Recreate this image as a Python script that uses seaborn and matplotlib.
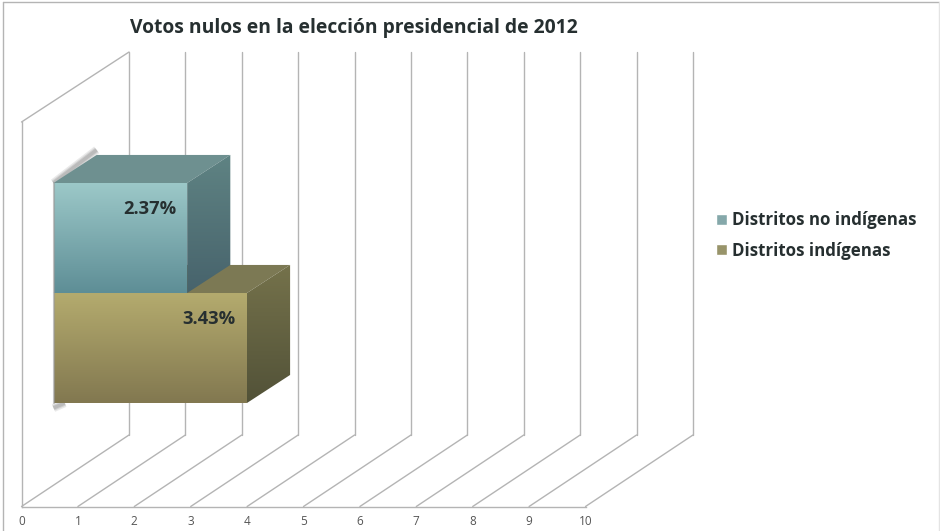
import matplotlib
matplotlib.use("Agg")
import matplotlib.pyplot as plt
from matplotlib.colors import LinearSegmentedColormap
from matplotlib.lines import Line2D
from matplotlib.patches import Polygon
import numpy as np
import pandas as pd
import seaborn as sns

# Chart content
title = "Votos nulos en la elección presidencial de 2012"
districts = ["Distritos no indígenas", "Distritos indígenas"]
null_votes = [2.37, 3.43]
axis_ticks = [0, 1, 2, 3, 4, 5, 6, 7, 8, 9, 10]

# Face colours per series: front, side, top (start and end of each gradient)
front_shades = [("#9CC8C8", "#5E8E96"), ("#B4AB6E", "#827850")]
side_shades = [("#5F8383", "#47636C"), ("#75724B", "#525238")]
top_shades = ["#6E9090", "#7C7954"]
legend_colours = ["#7FAEB0", "#A09A62"]

W, H = 940, 531
GRID = "#B4B4B4"
INK = "#262F30"
FONT = ["Open Sans", "DejaVu Sans"]

sns.set_theme(style="white")
plt.rcParams["font.family"] = FONT
fig = plt.figure(figsize=(W / 100, H / 100), dpi=100, facecolor="white")


def box(left, top, right, bottom):
    return [left / W, 1 - bottom / H, (right - left) / W, (bottom - top) / H]


# Floor and walls
wall = fig.add_axes(box(21.5, 122, 585.5, 506.5))
wall.set_xlim(0, 10)
wall.set_ylim(0, 1)
wall.set_facecolor("none")
BACK_X, BACK_Y, BACK_TOP = 1.906, 0.186, 1.182
for v in axis_ticks:
    wall.plot([v, v + BACK_X], [0, BACK_Y], color=GRID, lw=1, clip_on=False)
    wall.plot([v + BACK_X] * 2, [BACK_Y, BACK_TOP], color=GRID, lw=1, clip_on=False)
wall.plot([0, BACK_X], [1, BACK_TOP], color=GRID, lw=1, clip_on=False)
wall.set_xticks(axis_ticks)
wall.set_xticklabels([str(t) for t in axis_ticks], fontsize=8.5, color="#555555")
wall.tick_params(axis="x", length=0, pad=6)
wall.set_yticks([])
for side in ("top", "right"):
    wall.spines[side].set_visible(False)
for side in ("left", "bottom"):
    wall.spines[side].set_color(GRID)
    wall.spines[side].set_linewidth(1)

# Bars on the front plane of the box
ax = fig.add_axes(box(53.5, 183, 617.5, 403))
ax.set_facecolor("none")
frame = pd.DataFrame({"distrito": districts, "votos": null_votes})
sns.barplot(
    data=frame, x="votos", y="distrito", hue="distrito", order=districts,
    hue_order=districts, palette=legend_colours, width=1, dodge=False, ax=ax,
    legend=True,
)
ax.set_xlim(0, 10)
ax.set_ylim(1.5, -0.5)
ax.axis("off")

DEPTH_X, DEPTH_Y = 0.765, 0.255


def shaded(verts, start, end, zorder):
    """Fill a polygon with a vertical gradient between two colours."""
    verts = np.asarray(verts)
    cmap = LinearSegmentedColormap.from_list("face", [start, end])
    outline = Polygon(verts, closed=True, fc="none", ec="none", zorder=zorder,
                      clip_on=False)
    ax.add_patch(outline)
    image = ax.imshow(
        np.linspace(0, 1, 128).reshape(-1, 1), cmap=cmap, aspect="auto",
        extent=(verts[:, 0].min(), verts[:, 0].max(),
                verts[:, 1].max(), verts[:, 1].min()),
        origin="upper", zorder=zorder, interpolation="bilinear",
    )
    image.set_clip_path(outline)
    image.set_clip_box(fig.bbox)


bars = [c[0] for c in ax.containers]
for i, bar in enumerate(bars):
    value, y0 = bar.get_width(), bar.get_y()
    y1 = y0 + bar.get_height()
    bar.set_visible(False)
    # The lower series sits in front of the upper one, except for its top face
    base = 2 if i == 0 else 6
    top_z = 1 if i == 1 else base
    ax.add_patch(Polygon(
        [(0, y0), (value, y0), (value + DEPTH_X, y0 - DEPTH_Y), (DEPTH_X, y0 - DEPTH_Y)],
        closed=True, fc=top_shades[i], ec="none", zorder=top_z, clip_on=False,
    ))
    shaded([(value, y0), (value + DEPTH_X, y0 - DEPTH_Y),
            (value + DEPTH_X, y1 - DEPTH_Y), (value, y1)], *side_shades[i], base)
    shaded([(0, y0), (value, y0), (value, y1), (0, y1)], *front_shades[i], base + 1)
    ax.annotate(
        f"{value:.2f}%", xy=(value, y0), xytext=(-8, -18.5),
        textcoords="offset points", ha="right", va="center", fontsize=13.2,
        fontweight="bold", color=INK, zorder=9, annotation_clip=False,
    )

# Soft shadow along the back-left edge and under the lower bar's corner
for width, opacity in [(6, 0.18), (4, 0.25), (2.5, 0.3)]:
    ax.plot([0, DEPTH_X], [-0.5, -0.5 - DEPTH_Y * 1.18], color="#8A8A8A", lw=width,
            alpha=opacity, zorder=1, solid_capstyle="butt", clip_on=False)
    ax.plot([0, 0.2], [1.545, 1.5], color="#8A8A8A", lw=width,
            alpha=opacity, zorder=1, solid_capstyle="butt", clip_on=False)
ax.plot([0, 0], [-0.5, 1.5], color="#9A9A9A", lw=1.5, alpha=0.6, zorder=8, clip_on=False)
ax.set_xlim(0, 10)
ax.set_ylim(1.5, -0.5)

handles, labels = ax.get_legend_handles_labels()
ax.legend(
    handles, labels, loc="center left", bbox_to_anchor=(716 / W, 1 - 235.5 / H),
    bbox_transform=fig.transFigure, frameon=False, borderpad=0, borderaxespad=0,
    handlelength=0.62, handleheight=0.62, handletextpad=0.33, labelspacing=0.72,
    prop={"family": FONT, "size": 12.2, "weight": "bold"}, labelcolor=INK,
)

fig.text(130 / W, 1 - 28 / H, title, ha="left", va="center", fontsize=13.9,
         fontweight="bold", color=INK)

# Thin picture frame on the top and sides
for xs, ys, colour in [
    ((3, 3), (531, 1.5), "#B4B4B4"),
    ((3, 939), (1.5, 1.5), "#B4B4B4"),
    ((939, 939), (1.5, 531), "#E4E4E4"),
]:
    fig.add_artist(Line2D([x / W for x in xs], [1 - y / H for y in ys],
                          transform=fig.transFigure, color=colour, lw=1))

fig.savefig("out.png", dpi=100)
